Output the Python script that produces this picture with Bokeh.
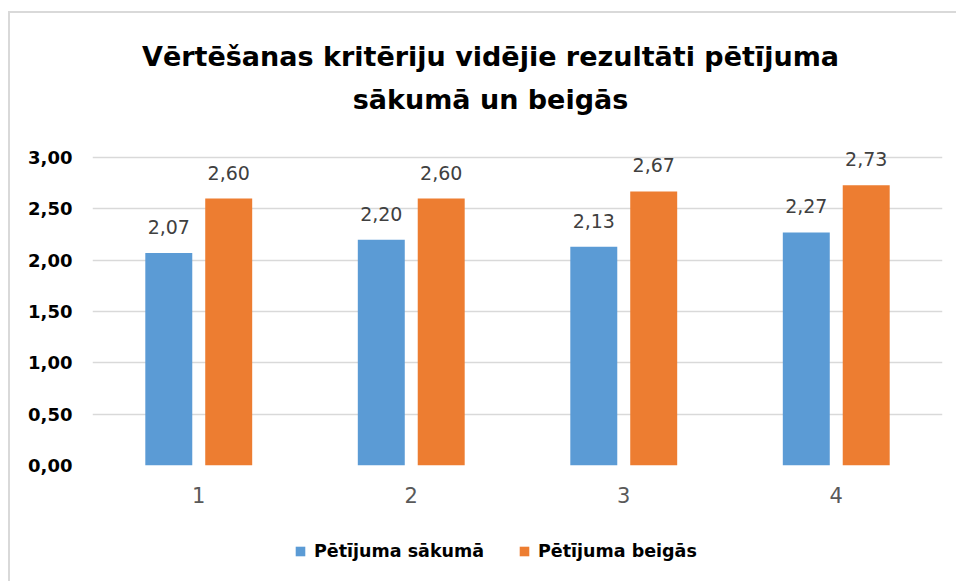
from bokeh.plotting import figure
from bokeh.layouts import column
from bokeh.models import (ColumnDataSource, FactorRange, FixedTicker, CustomJSTickFormatter,
                          Legend, LegendItem, Div, Range1d)
from bokeh.transform import dodge
from bokeh.core.properties import value
from bokeh.embed import file_html
from bokeh.resources import INLINE

categories = ["1", "2", "3", "4"]
start_vals = [2.07, 2.20, 2.13, 2.27]
end_vals = [2.60, 2.60, 2.67, 2.73]
series_names = ["Pētījuma sākumā", "Pētījuma beigās"]
title_lines = ["Vērtēšanas kritēriju vidējie rezultāti pētījuma", "sākumā un beigās"]
y_ticks = [0, 0.5, 1, 1.5, 2, 2.5, 3]

FONT = "DejaVu Sans"
BLUE = "#5B9BD5"
ORANGE = "#ED7D31"

def fmt(v):
    return f"{v:.2f}".replace(".", ",")

src = ColumnDataSource(dict(
    cat=categories,
    start=start_vals,
    end=end_vals,
    start_lbl=[fmt(v) for v in start_vals],
    end_lbl=[fmt(v) for v in end_vals],
))

W = 946
H_TITLE, H_PLOT, H_LEG = 131, 371, 66

# ---- title block
title = Div(text=(
    "<div style=\"margin-left:15px;width:931px;padding-top:22px;text-align:center;"
    "font-family:'DejaVu Sans';font-weight:bold;font-size:27px;line-height:43px;color:#000;\">"
    + "<br>".join(title_lines) + "</div>"), width=W, height=H_TITLE, margin=0)

# ---- main chart
p = figure(x_range=FactorRange(factors=categories, range_padding=0), y_range=(0, 3.1266),
           width=W, height=H_PLOT, output_backend="svg", toolbar_location=None, title=None,
           min_border_left=82, min_border_right=14, min_border_top=0, min_border_bottom=50)
p.outline_line_color = None
p.background_fill_color = "white"
p.border_fill_color = "white"

bw = 0.221
off = 0.141
r1 = p.vbar(x=dodge("cat", -off, range=p.x_range), top="start", width=bw, source=src,
            fill_color=BLUE, line_color=None)
r2 = p.vbar(x=dodge("cat", off, range=p.x_range), top="end", width=bw, source=src,
            fill_color=ORANGE, line_color=None)

lbl_kw = dict(text_font=value(FONT), text_font_size="19px", text_color="#404040",
              text_align="center", text_baseline="alphabetic", y_offset=-26, source=src)
p.text(x=dodge("cat", -off, range=p.x_range), y="start", text="start_lbl", **lbl_kw)
p.text(x=dodge("cat", off, range=p.x_range), y="end", text="end_lbl", **lbl_kw)

p.yaxis.ticker = FixedTicker(ticks=y_ticks)
p.yaxis.formatter = CustomJSTickFormatter(code="return tick.toFixed(2).replace('.', ',');")
for ax in (p.xaxis, p.yaxis):
    ax.axis_line_color = None
    ax.major_tick_line_color = None
    ax.minor_tick_line_color = None
    ax.major_tick_out = 0
    ax.major_tick_in = 0
p.yaxis.major_label_text_font = FONT
p.yaxis.major_label_text_font_style = "bold"
p.yaxis.major_label_text_font_size = "18px"
p.yaxis.major_label_text_color = "#000000"
p.yaxis.major_label_standoff = 20
p.xaxis.major_label_text_font = FONT
p.xaxis.major_label_text_font_size = "21px"
p.xaxis.major_label_text_color = "#595959"
p.xaxis.major_label_standoff = 21

p.xgrid.grid_line_color = None
p.ygrid.ticker = FixedTicker(ticks=y_ticks)
p.ygrid.grid_line_color = "#d9d9d9"
p.ygrid.grid_line_width = 1.5

# ---- legend strip (swatch carriers are zero-size bars in the series colours)
q = figure(width=W, height=H_LEG, output_backend="svg", toolbar_location=None,
           x_range=Range1d(0, 1), y_range=Range1d(0, 1),
           min_border_left=82, min_border_right=14, min_border_top=0, min_border_bottom=0)
q.axis.visible = False
q.grid.visible = False
q.outline_line_color = None
q.border_fill_color = "white"
q.background_fill_color = "white"
s1 = q.vbar(x=[0], top=[0], width=0, fill_color=BLUE, line_color=None)
s2 = q.vbar(x=[0], top=[0], width=0, fill_color=ORANGE, line_color=None)
legend = Legend(items=[LegendItem(label=series_names[0], renderers=[s1]),
                       LegendItem(label=series_names[1], renderers=[s2])],
                location=(202, 20), orientation="horizontal",
                glyph_width=12, glyph_height=12, label_standoff=8, spacing=34,
                padding=0, margin=0, border_line_color=None, background_fill_alpha=0,
                label_text_font=FONT, label_text_font_style="bold", label_text_font_size="17.5px",
                label_text_color="#000000")
q.add_layout(legend, "center")

layout = column(title, p, q, spacing=0)
layout.styles = {"border-top": "2px solid #d9d9d9", "border-left": "2px solid #d9d9d9",
                 "margin-top": "11px", "margin-left": "8px", "background-color": "white"}

open("out.html", "w").write(file_html(layout, INLINE))
